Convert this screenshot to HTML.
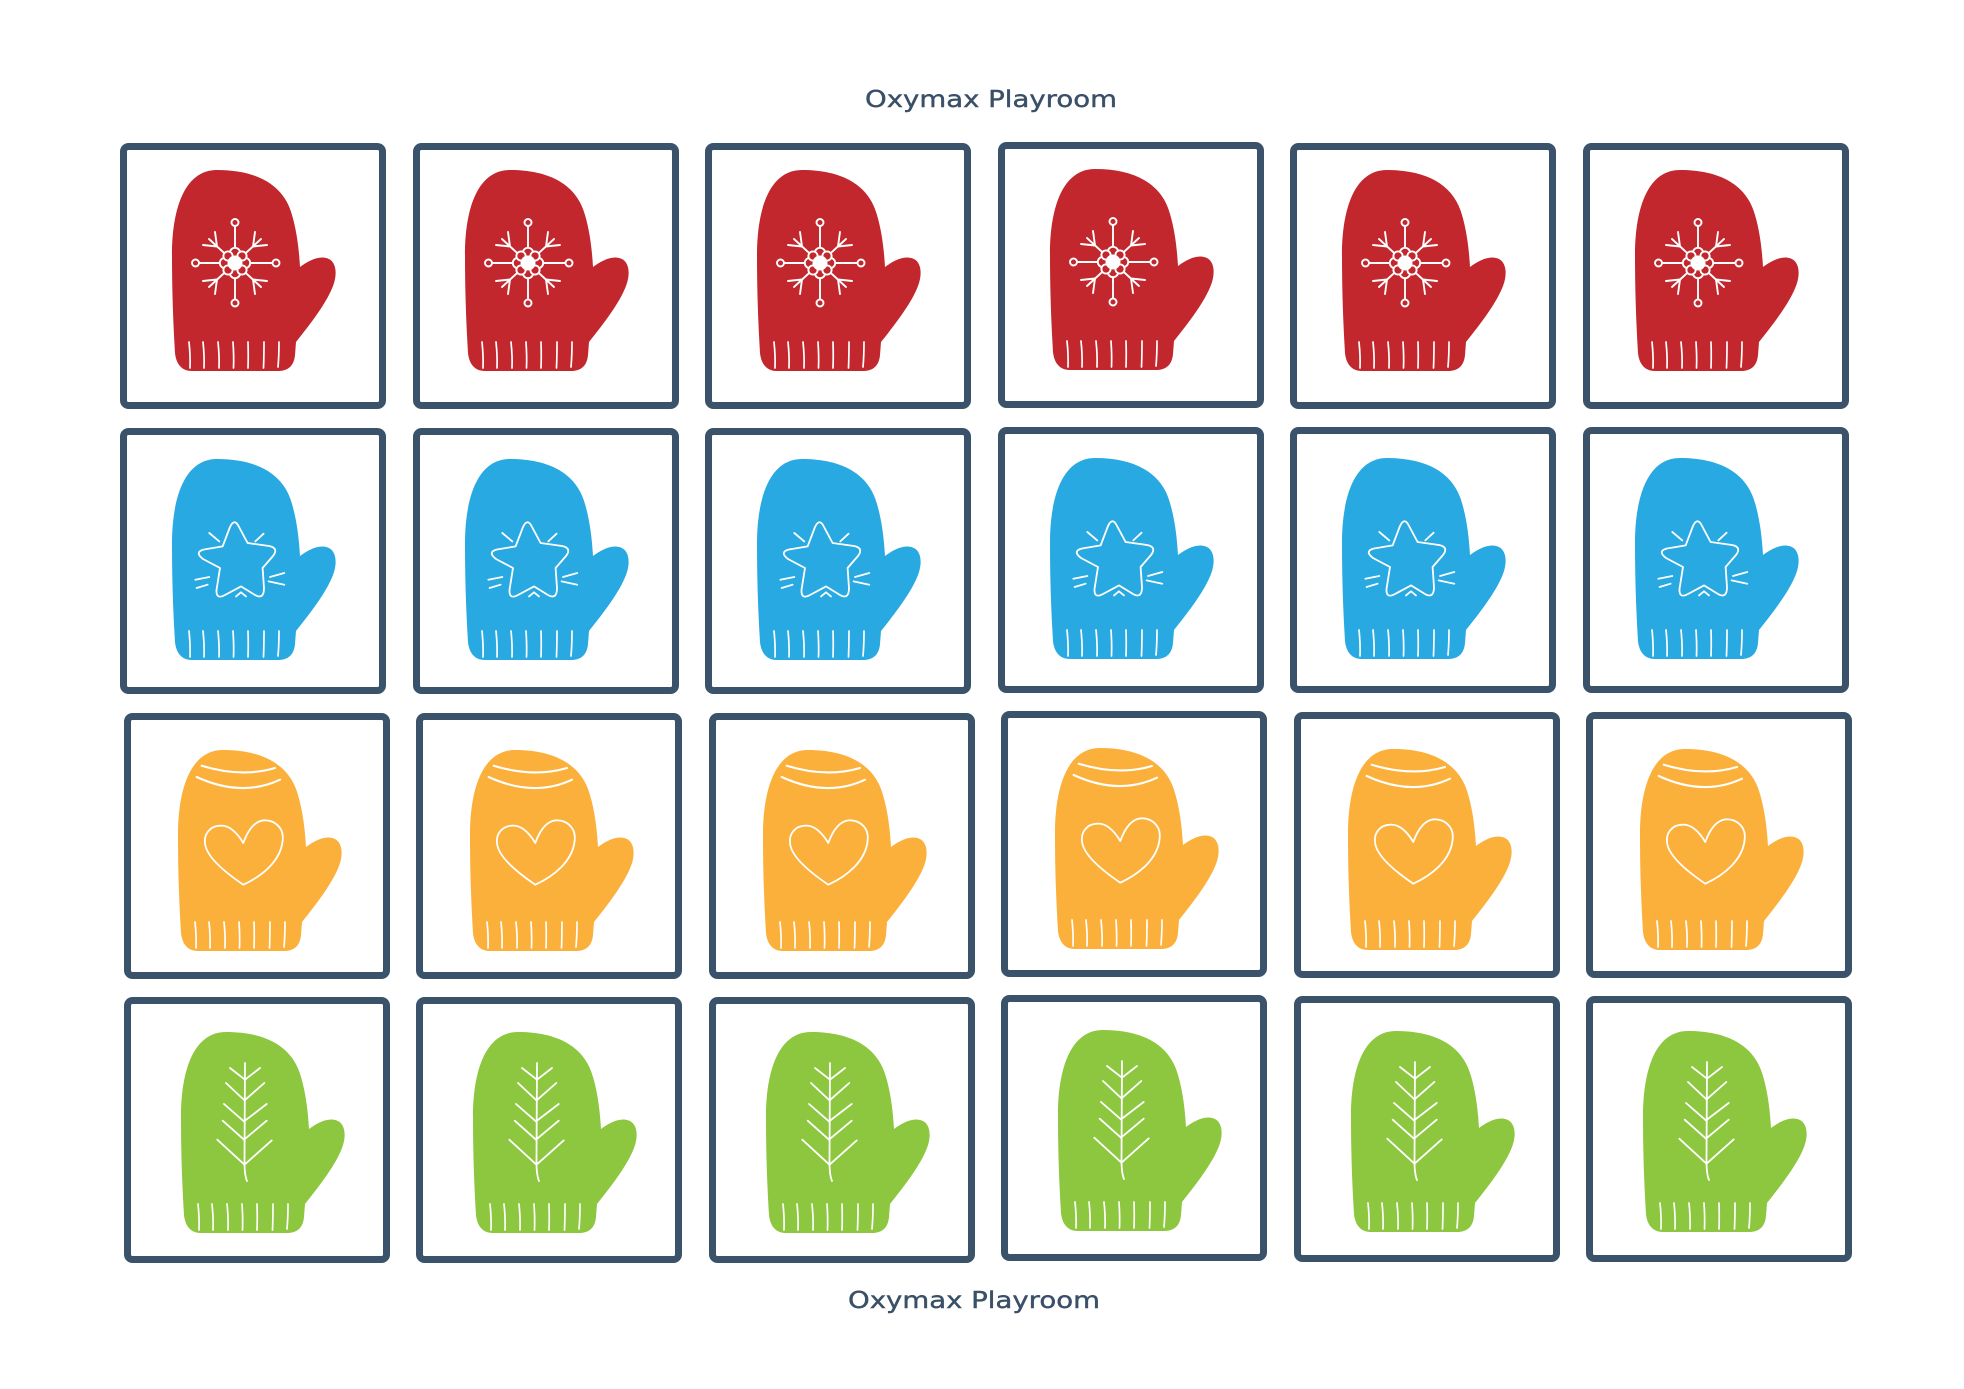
<!DOCTYPE html>
<html>
<head>
<meta charset="utf-8">
<style>
html,body{margin:0;padding:0;background:#ffffff;}
svg{display:block;}
</style>
</head>
<body>
<svg width="1964" height="1389" viewBox="0 0 1964 1389" xmlns="http://www.w3.org/2000/svg">
<rect x="0" y="0" width="1964" height="1389" fill="#ffffff"/>
<defs>
  <path id="m" d="M 45 0 C 85 0 112 15 120 45 C 125 62 127 80 128 97 C 136 91 146 86 154 88 C 164 90 166 103 161 116 C 155 132 140 152 124 172 L 123 185 C 122 196 116 201 106 201 L 20 201 C 9 201 4 193 3 183 C 1 150 0 120 0 85 C 0 40 12 0 45 0 Z"/>
  <g id="rib" stroke="#ffffff" stroke-width="1.7" fill="none" stroke-linecap="round">
    <path d="M17 172 Q18.5 186 18 198"/>
    <path d="M31 172 Q32.5 186 32 198"/>
    <path d="M46 172 Q47.5 186 47 198"/>
    <path d="M61 172 Q62 186 61.5 198"/>
    <path d="M76 172 Q76.5 186 76 198"/>
    <path d="M92 172 Q92 186 91.5 198"/>
    <path d="M107 172 Q107 186 106 197"/>
  </g>
  <rect id="card" x="3.5" y="3.5" width="259" height="259" rx="5" ry="5" fill="#ffffff" stroke="#3b536a" stroke-width="7"/>

  <!-- Row 1: red snowflake -->
  <g id="red">
    <use href="#card"/>
    <g transform="translate(52,27)"><use href="#m" fill="#c1272d"/><use href="#rib"/></g>
    <g stroke="#ffffff" stroke-width="1.9" fill="none" stroke-linecap="round">
      <line x1="115" y1="83" x2="115" y2="156.5"/>
      <line x1="79" y1="120" x2="152.5" y2="120"/>
      <circle cx="115" cy="79.5" r="3.5"/>
      <circle cx="115" cy="160" r="3.5"/>
      <circle cx="75.5" cy="120" r="3.5"/>
      <circle cx="156" cy="120" r="3.5"/>
      <line x1="115" y1="120" x2="89" y2="96"/>
      <line x1="97" y1="103.5" x2="83" y2="102"/>
      <line x1="97" y1="103.5" x2="95" y2="89"/>
      <line x1="115" y1="120" x2="141" y2="96"/>
      <line x1="133" y1="103.5" x2="147" y2="102"/>
      <line x1="133" y1="103.5" x2="135" y2="89"/>
      <line x1="115" y1="120" x2="89" y2="144"/>
      <line x1="97" y1="136.5" x2="83" y2="138"/>
      <line x1="97" y1="136.5" x2="95" y2="151"/>
      <line x1="115" y1="120" x2="141" y2="144"/>
      <line x1="133" y1="136.5" x2="147" y2="138"/>
      <line x1="133" y1="136.5" x2="135" y2="151"/>
      <circle cx="125" cy="120" r="5.2" fill="#c1272d"/>
      <circle cx="105" cy="120" r="5.2" fill="#c1272d"/>
      <circle cx="115" cy="110" r="5.2" fill="#c1272d"/>
      <circle cx="115" cy="130" r="5.2" fill="#c1272d"/>
      <circle cx="122" cy="113" r="4.6" fill="#c1272d"/>
      <circle cx="108" cy="113" r="4.6" fill="#c1272d"/>
      <circle cx="122" cy="127" r="4.6" fill="#c1272d"/>
      <circle cx="108" cy="127" r="4.6" fill="#c1272d"/>
    </g>
    <circle cx="115" cy="120" r="7.5" fill="#ffffff"/>
  </g>

  <!-- Row 2: blue star -->
  <g id="blue">
    <use href="#card"/>
    <g transform="translate(52,31)"><use href="#m" fill="#29a9e1"/><use href="#rib"/></g>
    <g stroke="#ffffff" stroke-width="1.8" fill="none" stroke-linecap="round" stroke-linejoin="round">
      <path d="M102.6 118.4 L110 99 Q114.3 90 118.5 98 L127.6 115 L149 118 Q159 120 153 128 L142.6 140 L144 160 Q144 172 135 167 L121 158.4 L105 167 Q96 172 96.5 162 L100 140 L83 131 Q74 124 84 121.5 Z"/>
      <line x1="89.3" y1="105" x2="99.3" y2="113.4"/>
      <line x1="135.3" y1="113.4" x2="143.6" y2="105.7"/>
      <line x1="150" y1="149" x2="164.3" y2="145"/>
      <line x1="148.6" y1="153.4" x2="164.3" y2="156.7"/>
      <line x1="75.3" y1="151.7" x2="89.3" y2="149"/>
      <line x1="76.6" y1="160" x2="87.6" y2="156.7"/>
      <polyline points="116,168.4 121,164.3 126,168.4"/>
    </g>
  </g>

  <!-- Row 3: yellow heart -->
  <g id="yellow">
    <use href="#card"/>
    <g transform="translate(54,37)"><use href="#m" fill="#fbb03b"/><use href="#rib"/></g>
    <g stroke="#ffffff" stroke-width="1.8" fill="none" stroke-linecap="round" stroke-linejoin="round">
      <path d="M 119.3 130 C 112 118 104 112 96 112.7 C 86 113 80 121 81 130 C 82 145 105 162 119.3 171.7 C 138 163 157 148 158.7 127 C 160 114 150 107 140 107.3 C 131 108 124 117 119.3 130 Z"/>
      <path d="M77.7 52.7 Q117.7 64.9 151 55" stroke-width="2.1"/>
      <path d="M72.7 64 Q117.7 84.7 156 66.7" stroke-width="2.1"/>
    </g>
  </g>

  <!-- Row 4: green tree -->
  <g id="green">
    <use href="#card"/>
    <g transform="translate(57,35)"><use href="#m" fill="#8dc63f"/><use href="#rib"/></g>
    <g stroke="#ffffff" stroke-width="1.8" fill="none" stroke-linecap="round" stroke-linejoin="round">
      <path d="M121 66 L120.5 165 Q120.5 178 123 184"/>
      <polyline points="106,71 121,82.7 136,71"/>
      <polyline points="102,86 120.5,103.4 140.3,86"/>
      <polyline points="100,107 120,124.4 142.7,107"/>
      <polyline points="98.7,123.7 120,142.7 142.7,123.7"/>
      <polyline points="93.3,142.7 120.5,167.7 147.7,143.4"/>
    </g>
  </g>
</defs>

<!-- Titles -->
<text x="991" y="107" text-anchor="middle" textLength="252" lengthAdjust="spacingAndGlyphs" font-family="DejaVu Sans, Liberation Sans, sans-serif" font-size="23" fill="#3a5068" stroke="#3a5068" stroke-width="0.4">Oxymax Playroom</text>
<text x="974" y="1308" text-anchor="middle" textLength="252" lengthAdjust="spacingAndGlyphs" font-family="DejaVu Sans, Liberation Sans, sans-serif" font-size="23" fill="#3a5068" stroke="#3a5068" stroke-width="0.4">Oxymax Playroom</text>

<!-- Row 1 -->
<use href="#red" x="120" y="143"/>
<use href="#red" x="413" y="143"/>
<use href="#red" x="705" y="143"/>
<use href="#red" x="998" y="142"/>
<use href="#red" x="1290" y="143"/>
<use href="#red" x="1583" y="143"/>

<!-- Row 2 -->
<use href="#blue" x="120" y="428"/>
<use href="#blue" x="413" y="428"/>
<use href="#blue" x="705" y="428"/>
<use href="#blue" x="998" y="427"/>
<use href="#blue" x="1290" y="427"/>
<use href="#blue" x="1583" y="427"/>

<!-- Row 3 -->
<use href="#yellow" x="124" y="713"/>
<use href="#yellow" x="416" y="713"/>
<use href="#yellow" x="709" y="713"/>
<use href="#yellow" x="1001" y="711"/>
<use href="#yellow" x="1294" y="712"/>
<use href="#yellow" x="1586" y="712"/>

<!-- Row 4 -->
<use href="#green" x="124" y="997"/>
<use href="#green" x="416" y="997"/>
<use href="#green" x="709" y="997"/>
<use href="#green" x="1001" y="995"/>
<use href="#green" x="1294" y="996"/>
<use href="#green" x="1586" y="996"/>
</svg>
</body>
</html>
